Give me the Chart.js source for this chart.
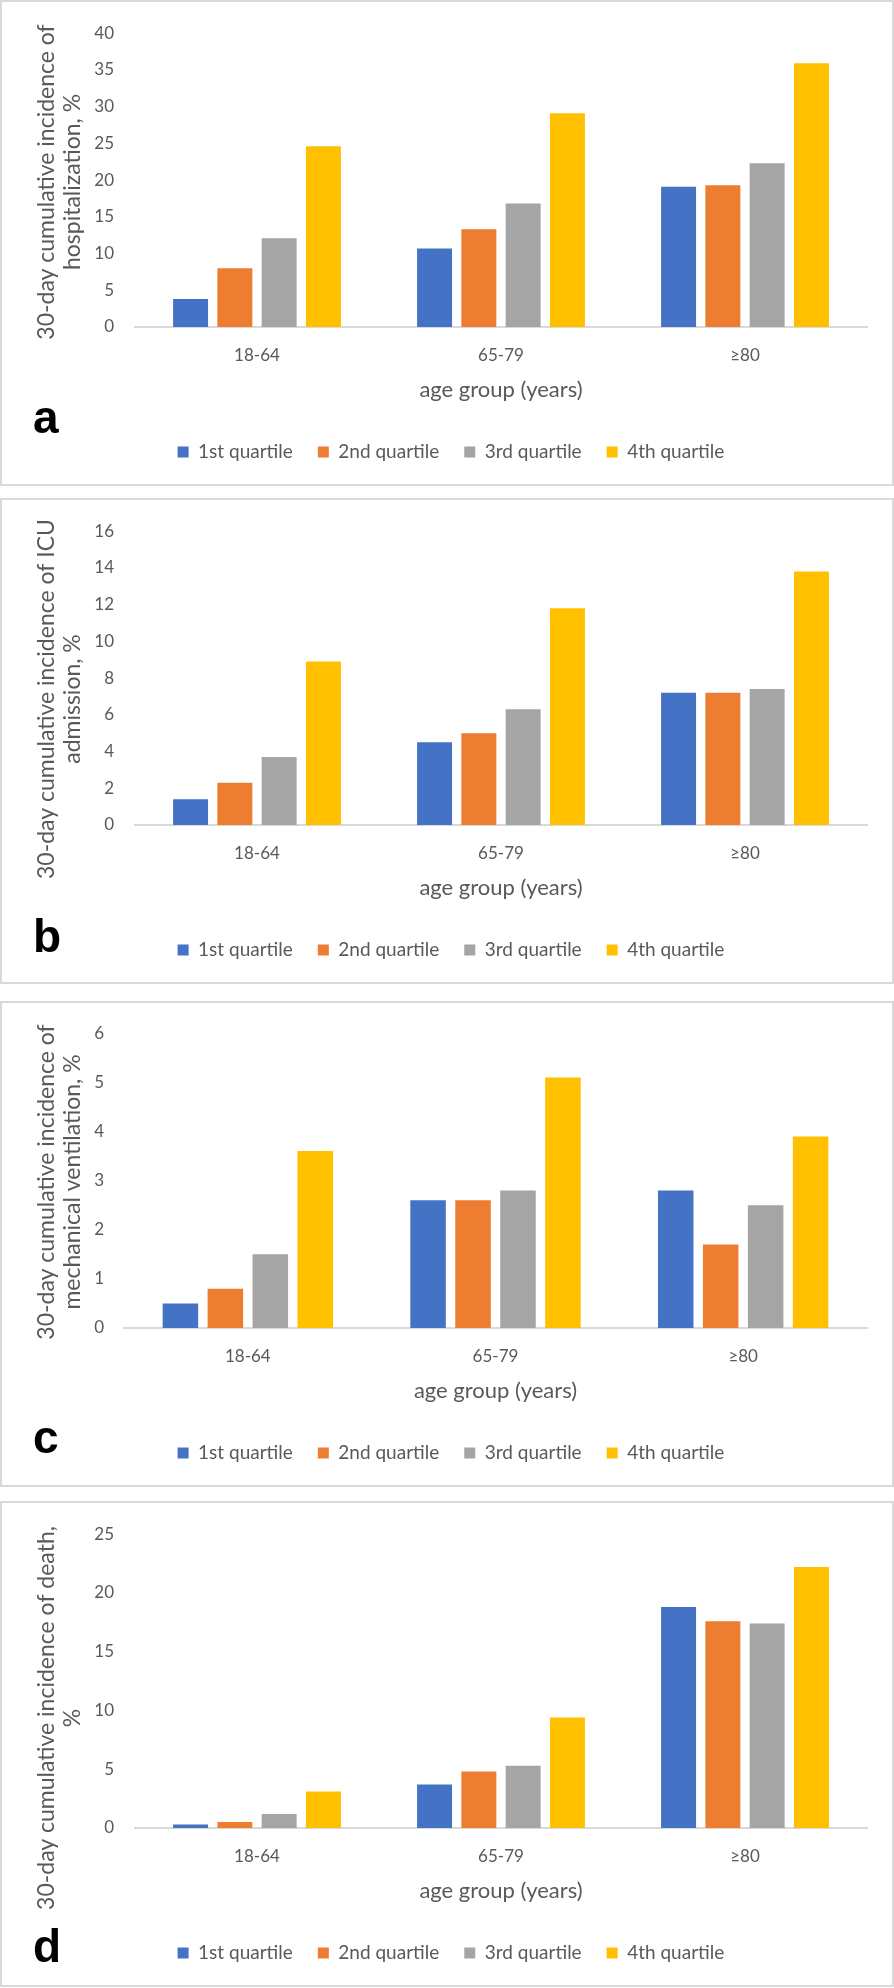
<!DOCTYPE html>
<html>
<head>
<meta charset="utf-8">
<script src="https://cdn.jsdelivr.net/npm/chart.js@4/dist/chart.umd.min.js"></script>
<style>
	html, body { margin: 0; padding: 0; background: #fff; }
	body { position: relative; width: 894px; height: 1988px; overflow: hidden; }
	.panel { position: absolute; left: 0; width: 894px; height: 486px; box-sizing: border-box; border: 2px solid #d9d9d9; background: #fff; }
	.panel canvas { position: absolute; left: 0; top: 0; display: block; }
</style>
</head>
<body>
<div class="panel" style="top:0px;"><canvas id="chartA" width="890" height="482"></canvas></div>
<div class="panel" style="top:498px;"><canvas id="chartB" width="890" height="482"></canvas></div>
<div class="panel" style="top:1001px;"><canvas id="chartC" width="890" height="482"></canvas></div>
<div class="panel" style="top:1501px;"><canvas id="chartD" width="890" height="482"></canvas></div>
<script>
// categories and series
var ageGroups = ["18-64", "65-79", "≥80"];
var quartileNames = ["1st quartile", "2nd quartile", "3rd quartile", "4th quartile"];

// a - hospitalization
var hospQ1 = [3.8, 10.7, 19.1];
var hospQ2 = [8.0, 13.3, 19.3];
var hospQ3 = [12.1, 16.8, 22.3];
var hospQ4 = [24.6, 29.1, 35.9];
var hospTicks = [0, 5, 10, 15, 20, 25, 30, 35, 40];
var hospTitle = ["30-day cumulative incidence of", "hospitalization, %"];

// b - ICU admission
var icuQ1 = [1.4, 4.5, 7.2];
var icuQ2 = [2.3, 5.0, 7.2];
var icuQ3 = [3.7, 6.3, 7.4];
var icuQ4 = [8.9, 11.8, 13.8];
var icuTicks = [0, 2, 4, 6, 8, 10, 12, 14, 16];
var icuTitle = ["30-day cumulative incidence of ICU", "admission, %"];

// c - mechanical ventilation
var ventQ1 = [0.5, 2.6, 2.8];
var ventQ2 = [0.8, 2.6, 1.7];
var ventQ3 = [1.5, 2.8, 2.5];
var ventQ4 = [3.6, 5.1, 3.9];
var ventTicks = [0, 1, 2, 3, 4, 5, 6];
var ventTitle = ["30-day cumulative incidence of", "mechanical ventilation, %"];

// d - death
var deathQ1 = [0.3, 3.7, 18.8];
var deathQ2 = [0.5, 4.8, 17.6];
var deathQ3 = [1.2, 5.3, 17.4];
var deathQ4 = [3.1, 9.4, 22.2];
var deathTicks = [0, 5, 10, 15, 20, 25];
var deathTitle = ["30-day cumulative incidence of death,", "%"];

var xTitle = "age group (years)";

var quartileChart = {
	barColors: ["#4472C4", "#ED7D31", "#A5A5A5", "#FFC000"],
	textColor: "#595959",
	fontFamily: "Lato, 'Open Sans', sans-serif",
	init: function(){
		Chart.register(quartileChart.letterPlugin, quartileChart.yTitlePlugin, quartileChart.legendShiftPlugin);
		quartileChart.drawPanel("chartA", [hospQ1, hospQ2, hospQ3, hospQ4], hospTicks, hospTitle, {letter: "a", letterY: 431, titleY: 180, axisWidth: 133, tickPad: 21});
		quartileChart.drawPanel("chartB", [icuQ1, icuQ2, icuQ3, icuQ4], icuTicks, icuTitle, {letter: "b", letterY: 452, titleY: 199, axisWidth: 133, tickPad: 21});
		quartileChart.drawPanel("chartC", [ventQ1, ventQ2, ventQ3, ventQ4], ventTicks, ventTitle, {letter: "c", letterY: 450, titleY: 179, axisWidth: 122, tickPad: 20});
		quartileChart.drawPanel("chartD", [deathQ1, deathQ2, deathQ3, deathQ4], deathTicks, deathTitle, {letter: "d", letterY: 459, titleY: 215, axisWidth: 133, tickPad: 21});
	},
	// panel letter (a, b, c, d)
	letterPlugin: {
		id: "panelLetter",
		afterDraw: function(chart, args, opts){
			var ctx = chart.ctx;
			ctx.save();
			ctx.font = "bold 46px 'Liberation Sans', Arial, sans-serif";
			ctx.fillStyle = "#000";
			ctx.textAlign = "left";
			ctx.textBaseline = "alphabetic";
			ctx.fillText(opts.text, opts.x, opts.y);
			ctx.restore();
		}
	},
	// two line rotated y axis title, placed like the excel one
	yTitlePlugin: {
		id: "yTitle",
		afterDraw: function(chart, args, opts){
			var ctx = chart.ctx;
			ctx.save();
			ctx.font = "23px " + quartileChart.fontFamily;
			ctx.fillStyle = quartileChart.textColor;
			ctx.textAlign = "center";
			ctx.textBaseline = "middle";
			ctx.translate(opts.x, opts.y);
			ctx.rotate(-Math.PI / 2);
			for(var i = 0; i < opts.lines.length; i++){
				ctx.fillText(opts.lines[i], 0, i * opts.lineGap);
			}
			ctx.restore();
		}
	},
	legendShiftPlugin: {
		id: "legendShift",
		beforeDraw: function(chart, args, opts){
			if(chart.legend){
				chart.legend.left = opts.left - chart.legend.options.labels.padding;
			}
		}
	},
	drawPanel: function(canvasId, seriesList, ticks, titleLines, panelOpt){
		var datasets = [];
		for(var i = 0; i < seriesList.length; i++){
			datasets.push({
				label: quartileNames[i],
				data: seriesList[i],
				backgroundColor: quartileChart.barColors[i],
				borderWidth: 0,
				categoryPercentage: 0.726,
				barPercentage: 0.79
			});
		}

		new Chart(document.getElementById(canvasId), {
			type: "bar",
			data: {labels: ageGroups, datasets: datasets},
			options: {
				responsive: false,
				animation: false,
				events: [],
				layout: {padding: {left: 0, right: 25, top: 25, bottom: 12.5}},
				plugins: {
					legend: {
						position: "bottom",
						align: "start",
						labels: {
							boxWidth: 11,
							boxHeight: 11,
							padding: 25,
							color: quartileChart.textColor,
							font: {family: quartileChart.fontFamily, size: 19}
						}
					},
					tooltip: {enabled: false},
					panelLetter: {text: panelOpt.letter, x: 31, y: panelOpt.letterY},
					yTitle: {lines: titleLines, x: 45, y: panelOpt.titleY, lineGap: 26},
					legendShift: {left: 175.6}
				},
				scales: {
					x: {
						grid: {display: false, drawTicks: false},
						border: {display: true, color: "#d9d9d9", width: 2},
						ticks: {color: quartileChart.textColor, font: {family: quartileChart.fontFamily, size: 17}, padding: 18},
						title: {display: true, text: xTitle, color: quartileChart.textColor, font: {family: quartileChart.fontFamily, size: 22}, padding: {top: 0, bottom: 14}},
						afterFit: function(scale){ scale.height = 90.5; }
					},
					y: {
						min: 0,
						max: ticks[ticks.length - 1],
						grid: {display: false, drawTicks: false},
						border: {display: false},
						ticks: {stepSize: ticks[1] - ticks[0], color: quartileChart.textColor, font: {family: quartileChart.fontFamily, size: 17}, padding: panelOpt.tickPad},
						afterFit: function(scale){ scale.width = panelOpt.axisWidth; }
					}
				}
			}
		});
	}
};

quartileChart.init();
</script>
</body>
</html>
